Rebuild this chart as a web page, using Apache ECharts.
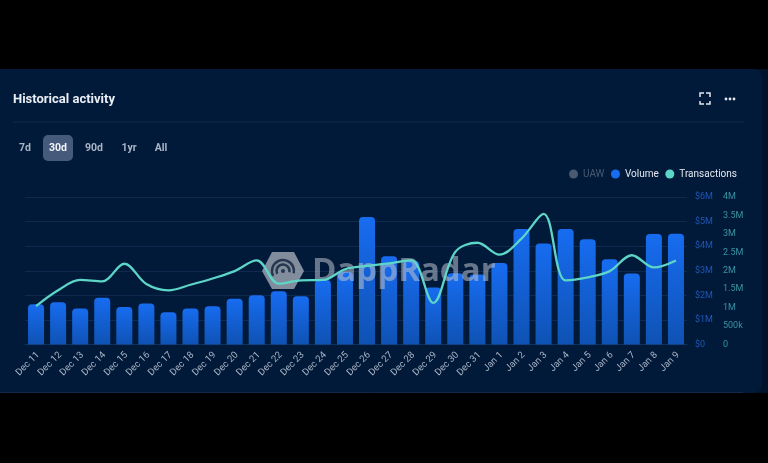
<!DOCTYPE html>
<html>
<head>
<meta charset="utf-8">
<title>Historical activity</title>
<script src="https://cdn.jsdelivr.net/npm/echarts@6/dist/echarts.min.js"></script>
<style>
html, body { margin: 0; padding: 0; background: #000; }
#chart { width: 768px; height: 463px; }
</style>
</head>
<body>
<div id="chart"></div>
<script>
var days = ['Dec 11','Dec 12','Dec 13','Dec 14','Dec 15','Dec 16','Dec 17','Dec 18','Dec 19','Dec 20',
	'Dec 21','Dec 22','Dec 23','Dec 24','Dec 25','Dec 26','Dec 27','Dec 28','Dec 29','Dec 30',
	'Dec 31','Jan 1','Jan 2','Jan 3','Jan 4','Jan 5','Jan 6','Jan 7','Jan 8','Jan 9'];
// in $M
var volume = [1.64,1.72,1.46,1.90,1.53,1.67,1.31,1.46,1.56,1.86,
	2.00,2.17,1.96,2.62,2.95,5.19,3.59,3.40,2.32,2.90,
	2.85,3.32,4.70,4.11,4.70,4.28,3.47,2.89,4.49,4.51];
// in M
var transactions = [1.04,1.47,1.75,1.71,2.19,1.64,1.47,1.62,1.79,1.99,
	2.28,1.65,1.74,1.75,2.04,2.13,2.20,2.29,1.13,2.51,
	2.76,2.44,2.87,3.54,1.74,1.82,1.99,2.42,2.09,2.28];
var ranges = ['7d','30d','90d','1yr','All'];
var rangeX = [25,58,94,129,161];

var myChart = echarts.init(document.getElementById('chart'));

function txMoney(v){ return v == 0 ? '$0' : '$' + v + 'M'; }
function txCount(v){
	if(v == 0) return '0';
	if(v < 1) return (v*1000) + 'k';
	return v + 'M';
}

var shapes = [
	// panel
	{type:'rect',z:-10,shape:{x:755,y:69,width:13,height:324},style:{fill:'#01132b'}},
	{type:'rect',z:-9,shape:{x:-8,y:69,width:770,height:324,r:8},style:{fill:'#021a3a'}},
	{type:'line',z:-5,shape:{x1:0,y1:392.5,x2:743,y2:392.5},style:{stroke:'#0e2a4d',lineWidth:1}},
	{type:'text',z:5,style:{x:13,y:99.5,text:'Historical activity',fill:'#e8edf4',font:'bold 13px Roboto',textVerticalAlign:'middle'}},
	{type:'line',z:-5,shape:{x1:13,y1:122,x2:744,y2:122},style:{stroke:'#0e2a4d',lineWidth:1}},
	{type:'rect',z:-5,shape:{x:43,y:135,width:30,height:26,r:5},style:{fill:'#465a7c'}},
	// expand icon
	{type:'polyline',shape:{points:[[700,97],[700,93],[704,93]]},style:{stroke:'#e3e8ef',lineWidth:1.5,fill:null}},
	{type:'polyline',shape:{points:[[706,93],[710,93],[710,97]]},style:{stroke:'#e3e8ef',lineWidth:1.5,fill:null}},
	{type:'polyline',shape:{points:[[700,101],[700,104],[704,104]]},style:{stroke:'#e3e8ef',lineWidth:1.5,fill:null}},
	{type:'polyline',shape:{points:[[706,104],[710,104],[710,101]]},style:{stroke:'#e3e8ef',lineWidth:1.5,fill:null}},
	{type:'circle',shape:{cx:726,cy:99,r:1.4},style:{fill:'#e3e8ef'}},
	{type:'circle',shape:{cx:730,cy:99,r:1.4},style:{fill:'#e3e8ef'}},
	{type:'circle',shape:{cx:734,cy:99,r:1.4},style:{fill:'#e3e8ef'}},
	// watermark, under the line but over the bars
	{type:'polygon',z:5,shape:{points:[[262,271],[272,252],[294,252],[304,271],[294,289],[272,289]]},style:{fill:'rgba(190,195,205,0.68)'}},
	{type:'arc',z:6,shape:{cx:283,cy:271,r:11,startAngle:-3.6,endAngle:0.2},style:{stroke:'#27374f',lineWidth:2.5,fill:null}},
	{type:'arc',z:6,shape:{cx:283,cy:271,r:6.5,startAngle:-3.6,endAngle:0.2},style:{stroke:'#27374f',lineWidth:2.5,fill:null}},
	{type:'circle',z:6,shape:{cx:283,cy:271,r:2},style:{fill:'#27374f'}},
	{type:'text',z:5,style:{x:312,y:272,text:'DappRadar',fill:'rgba(190,195,205,0.55)',font:'bold 33px "Open Sans"',textVerticalAlign:'middle'}}
];
for(var i = 0;i<ranges.length;i++){
	shapes.push({type:'text',z:5,style:{x:rangeX[i],y:148,text:ranges[i],fill:i == 1 ? '#f0f3f8' : '#a9b4c4',font:'bold 10.5px Roboto',letterSpacing:0.6,textAlign:'center',textVerticalAlign:'middle'}});
}

myChart.setOption({
	backgroundColor: '#000',
	animation: false,
	legend: {
		top: 164,
		right: 26,
		itemWidth: 9,
		itemHeight: 9,
		itemGap: 6.5,
		icon: 'circle',
		inactiveColor: '#4a5a73',
		textStyle: {color:'#e3e8ef',fontSize:10,fontFamily:'Roboto'},
		selected: {UAW:false},
		data: ['UAW',{name:'Volume',itemStyle:{color:'#176cf0'}},'Transactions']
	},
	grid: {left:25,right:81,top:197,height:147.5},
	xAxis: [{
		type: 'category',
		data: days,
		axisTick: {show:false},
		axisLine: {show:true,lineStyle:{color:'#123058'}},
		axisLabel: {
			interval: 0,
			rotate: 45,
			margin: 7,
			formatter: function(v){ return '{t|' + v + '}'; },
			rich: {t:{color:'#a9b4c4',fontSize:9.5,fontFamily:'Roboto',padding:[6,0,0,0]}}
		}
	}],
	yAxis: [{
		type: 'value',
		min: 0,
		max: 6,
		interval: 1,
		position: 'right',
		offset: 0,
		axisLine: {show:false},
		axisTick: {show:false},
		splitLine: {lineStyle:{color:'#0f2a4e'}},
		axisLabel: {color:'#1c56b8',fontSize:9,fontFamily:'Roboto',formatter:txMoney}
	},{
		type: 'value',
		min: 0,
		max: 4,
		interval: 0.5,
		position: 'right',
		offset: 28,
		axisLine: {show:false},
		axisTick: {show:false},
		splitLine: {show:false},
		axisLabel: {color:'#3a93a3',fontSize:9,fontFamily:'Roboto',formatter:txCount}
	}],
	series: [{
		name: 'UAW',
		type: 'line',
		yAxisIndex: 1,
		itemStyle: {color:'#4a5a73'},
		data: []
	},{
		name: 'Volume',
		type: 'bar',
		barWidth: 16,
		itemStyle: {
			borderRadius: [4,4,0,0],
			color: new echarts.graphic.LinearGradient(0,0,0,1,[{offset:0,color:'#176cf0'},{offset:1,color:'#0f52b4'}],false)
		},
		data: volume
	},{
		name: 'Transactions',
		type: 'line',
		yAxisIndex: 1,
		smooth: 0.35,
		showSymbol: false,
		symbol: 'circle',
		itemStyle: {color:'#5dd6c8'},
		lineStyle: {color:'#5dd6c8',width:2.3},
		z: 10,
		data: transactions
	}],
	graphic: {elements: shapes}
});
</script>
</body>
</html>
